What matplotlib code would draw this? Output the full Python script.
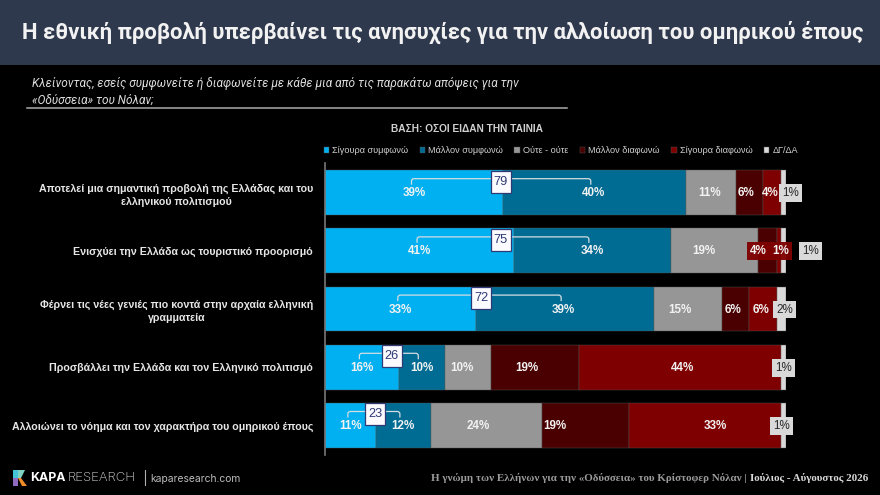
import numpy as np
import matplotlib
matplotlib.use("Agg")
import matplotlib.pyplot as plt
from matplotlib.patches import Rectangle, Polygon, PathPatch
from matplotlib.path import Path

W, H = 880, 495

title = "Η εθνική προβολή υπερβαίνει τις ανησυχίες για την αλλοίωση του ομηρικού έπους"
question = "Κλείνοντας, εσείς συμφωνείτε ή διαφωνείτε με κάθε μια από τις παρακάτω απόψεις για την\n«Οδύσσεια» του Νόλαν;"
base_note = "ΒΑΣΗ: ΟΣΟΙ ΕΙΔΑΝ ΤΗΝ ΤΑΙΝΙΑ"
footer_a = "Η γνώμη των Ελλήνων για την «Οδύσσεια» του Κρίστοφερ Νόλαν |"
footer_b = "Ιούλιος - Αύγουστος 2026"

statements = [
    "Αποτελεί μια σημαντική προβολή της Ελλάδας και του\nελληνικού πολιτισμού",
    "Ενισχύει την Ελλάδα ως τουριστικό προορισμό",
    "Φέρνει τις νέες γενιές πιο κοντά στην αρχαία ελληνική\nγραμματεία",
    "Προσβάλλει την Ελλάδα και τον Ελληνικό πολιτισμό",
    "Αλλοιώνει το νόημα και τον χαρακτήρα του ομηρικού έπους",
]
series_names = ["Σίγουρα συμφωνώ", "Μάλλον συμφωνώ", "Ούτε - ούτε",
                "Μάλλον διαφωνώ", "Σίγουρα διαφωνώ", "ΔΓ/ΔΑ"]
sure_agree = [39, 41, 33, 16, 11]
rather_agree = [40, 34, 39, 10, 12]
neither = [11, 19, 15, 10, 24]
rather_disagree = [6, 4, 6, 19, 19]
sure_disagree = [4, 1, 6, 44, 33]
dk_na = [1, 1, 2, 1, 1]
agree_totals = [79, 75, 72, 26, 23]

colors = ["#00B0F0", "#006C94", "#969696", "#4A0000", "#7F0000", "#D9D9D9"]
# label nudges in pixels, per row and series (layout only)
nudges = [
    [0, -1, -1, -3, -2, 7],
    [0, 0, -11, -9, 2, 27],
    [0, -1, -8, -3, -2, 3],
    [0, 0, -6, -8, 3, 0],
    [0, 0, -8, -31, 10, -2],
]
box_nudge = [-3.5, -5, -1.3, 0, -1.6]

plt.rcParams["font.family"] = ["Liberation Sans", "DejaVu Sans"]
fig = plt.figure(figsize=(W / 100, H / 100), dpi=100, facecolor="black")

def fx(p): return p / W
def fy(p): return 1 - p / H

# header band
fig.add_artist(Rectangle((0, fy(65)), 1, 65 / H, transform=fig.transFigure, fc="#2F394D", ec="none"))
fig.text(fx(442.5), fy(32.5), title, color="#F2F2F2", fontsize=15.85, fontweight="bold",
         family=["Roboto", "DejaVu Sans"], ha="center", va="center")

fig.text(fx(32), fy(92), question, color="#DDDDDD", fontsize=8.6, style="italic",
         family=["Roboto", "DejaVu Sans"], ha="left", va="center", linespacing=1.35)
fig.add_artist(plt.Line2D([fx(27), fx(567)], [fy(107.5)] * 2, color="#AAAAAA", lw=1.1))
fig.text(fx(467), fy(128.5), base_note, color="#D0D0D0", fontsize=7.3, fontweight="bold",
         ha="center", va="center")

# chart
AX_L, AX_R, AX_T, AX_B = 325, 786, 163.5, 454.5
ax = fig.add_axes([fx(AX_L), fy(AX_B), (AX_R - AX_L) / W, (AX_B - AX_T) / H])
ax.set_facecolor("none")
series = np.array([sure_agree, rather_agree, neither, rather_disagree, sure_disagree, dk_na], float)
shares = series / series.sum(axis=0)
rows = np.arange(len(statements))
left = np.zeros(len(statements))
PX = 1 / (AX_R - AX_L)
RY = 1 / 58.2
centers = np.zeros_like(shares)
for i, name in enumerate(series_names):
    ax.barh(rows, shares[i], left=left, height=0.77, color=colors[i], label=name,
            edgecolor="#555555", linewidth=0.3)
    centers[i] = left + shares[i] / 2
    left = left + shares[i]
ax.set_xlim(0, 1)
ax.set_ylim(4.5, -0.5)
ax.set_yticks(rows, statements, color="#E6E6E6", fontsize=7.7, fontweight="bold",
              multialignment="center", linespacing=1.4)
ax.tick_params(axis="y", length=0, pad=8.6)
ax.set_xticks([])
for s in ["top", "right", "bottom"]:
    ax.spines[s].set_visible(False)
ax.spines["left"].set_color("#777777")
ax.spines["left"].set_linewidth(1.2)
ax.spines["left"].set_zorder(5)

for r in rows:
    for i in range(6):
        val = int(series[i, r])
        x = centers[i, r] + nudges[r][i] * PX
        boxed = i == 5 or (r == 1 and i in (3, 4))
        bbox = None
        if i == 5:
            bbox = dict(boxstyle="square,pad=0.25", fc="#D9D9D9", ec="none")
        elif boxed:
            bbox = dict(boxstyle="square,pad=0.25", fc="#7F0000", ec="none", alpha=0.95)
        ax.text(x, r + 0.01, f"{val}%", color="#262626" if i == 5 else "#F2F2F2",
                fontsize=8.4, fontweight="bold" if i != 5 else "normal",
                ha="center", va="center", bbox=bbox, zorder=6, clip_on=False)
    # bracket joining the two agree segments
    x0 = centers[0, r] - 2.5 * PX
    x1 = centers[1, r] - 3.5 * PX
    ytop = r - 0.385 + 8.5 * RY
    ybot = ytop + 6 * RY
    c = 2.5 * PX
    cy = 2.5 * RY
    verts = [(x0, ybot), (x0, ytop + cy), (x0, ytop), (x0 + c, ytop), (x1 - c, ytop),
             (x1, ytop), (x1, ytop + cy), (x1, ybot)]
    codes = [Path.MOVETO, Path.LINETO, Path.CURVE3, Path.CURVE3, Path.LINETO,
             Path.CURVE3, Path.CURVE3, Path.LINETO]
    ax.add_patch(PathPatch(Path(verts, codes), fc="none", ec="#D5DDE2", lw=0.9, zorder=4))
    mid = (centers[0, r] + centers[1, r]) / 2 + box_nudge[r] * PX
    bw, bh = 20 * PX, 22 * RY
    ytop_box = r - 0.385 + 0.5 * RY
    ax.add_patch(Rectangle((mid - bw / 2, ytop_box), bw, bh, fc="#FAFAFF", ec="#2F3A75", lw=0.9, zorder=7))
    ax.text(mid, ytop_box + bh / 2, str(agree_totals[r]), color="#2F3A75", fontsize=9.2,
            ha="center", va="center", zorder=8)

leg = ax.legend(loc="center left", bbox_to_anchor=(-0.003, 1 + 0.045), ncol=6, frameon=False,
                fontsize=6.6, labelcolor="#D0D0D0", handlelength=0.6, handleheight=0.6,
                handletextpad=0.35, columnspacing=1.22, borderaxespad=0, borderpad=0)

# footer
logo_parts = [
    ([13, 18, 18, 13], [470, 470, 478, 478], "#45C4D6"),
    ([18, 25, 21, 18], [470, 470, 478, 478], "#7FD3C0"),
    ([13, 18, 18, 13], [478, 478, 486, 486], "#8E6BBE"),
    ([18, 21, 27, 22], [478, 478, 486, 486], "#F28C28"),
]
for xs, ys, col in logo_parts:
    fig.add_artist(Polygon(np.c_[np.array(xs) / W, 1 - np.array(ys) / H], closed=True,
                           transform=fig.transFigure, fc=col, ec="none"))
fig.text(fx(30), fy(478), "KAPA", color="white", fontsize=8.9, fontweight="bold",
         family=["Inter", "DejaVu Sans"], ha="left", va="center")
fig.text(fx(68), fy(478), "RESEARCH", color="#D8D8D8", fontsize=9.5, fontweight="light",
         family=["Inter", "DejaVu Sans"], ha="left", va="center")
fig.add_artist(plt.Line2D([fx(144.5)] * 2, [fy(470), fy(485)], color="#B0B0B0", lw=0.8))
fig.text(fx(150.5), fy(479), "kaparesearch.com", color="#BDBDBD", fontsize=7.4,
         family=["Inter", "DejaVu Sans"], ha="left", va="center")
fig.text(fx(431), fy(478), footer_a, color="#9A9A9A", fontsize=7.9, fontweight="bold",
         family=["Liberation Serif", "DejaVu Serif"], ha="left", va="center")
fig.text(fx(868), fy(478), footer_b, color="#D8D8D8", fontsize=7.95, fontweight="bold",
         family=["Liberation Serif", "DejaVu Serif"], ha="right", va="center")

fig.savefig("out.png", dpi=100, facecolor="black")
